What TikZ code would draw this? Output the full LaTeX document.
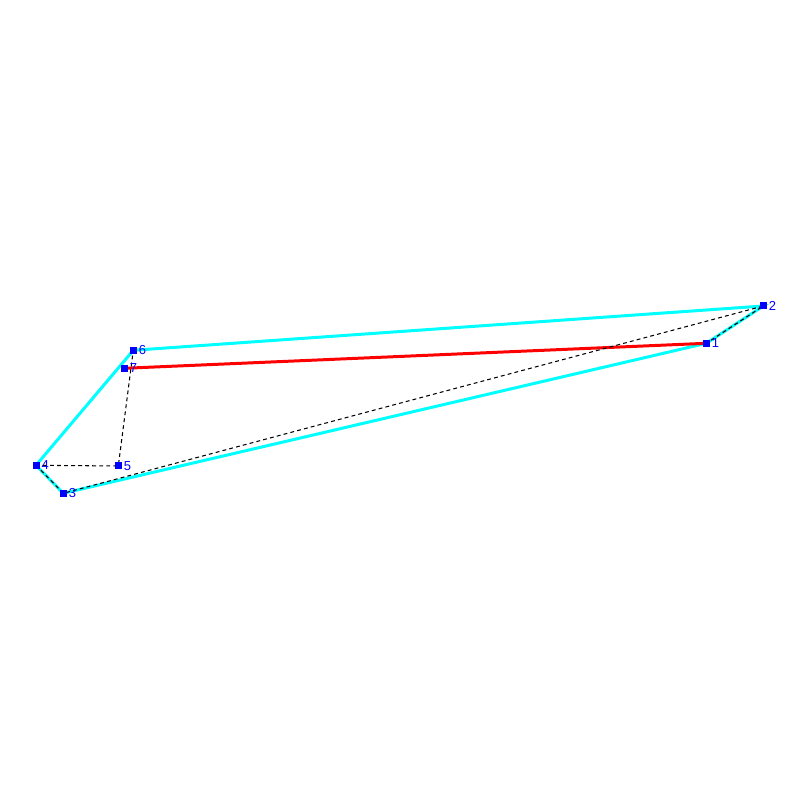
\documentclass[tikz,border=0pt]{standalone}
\usepackage{fontspec}
\newfontfamily\lblfont{Liberation Sans}
\definecolor{edgecyan}{RGB}{0,255,255}
\definecolor{markblue}{RGB}{0,0,255}
\definecolor{linkred}{RGB}{255,0,0}

\begin{document}
\begin{tikzpicture}
\useasboundingbox (0, 0) rectangle (8, 8);
\foreach \n/\x/\y in {
	1/7.063/4.567,
	2/7.633/4.94,
	3/0.633/3.067,
	4/0.36/3.347,
	5/1.183/3.34,
	6/1.333/4.497,
	7/1.243/4.317
	} {
	\coordinate (p\n) at (\x, \y);
}
\draw [edgecyan, line width=0.85pt] (p1) -- (p2) -- (p6) -- (p4) -- (p3) -- cycle;
\draw [linkred, line width=0.85pt] (p7) -- (p1);
\draw [black, line width=0.3pt, dash pattern=on 1.1pt off 0.9pt] (p4) -- (p5) -- (p6);
\draw [black, line width=0.3pt, dash pattern=on 1.1pt off 0.9pt] (p4) -- (p3) -- (p2) -- (p1);
\foreach \n in {1, ..., 7} {
	\node [fill=markblue, minimum size=0.07cm, inner sep=0pt] (m\n) at (p\n) {};
	\node [anchor=west, inner sep=0pt, xshift=0.2pt, text=markblue, font=\lblfont\fontsize{3.7}{4}\selectfont] (t\n) at (m\n.east) {\n};
}
\end{tikzpicture}
\end{document}
